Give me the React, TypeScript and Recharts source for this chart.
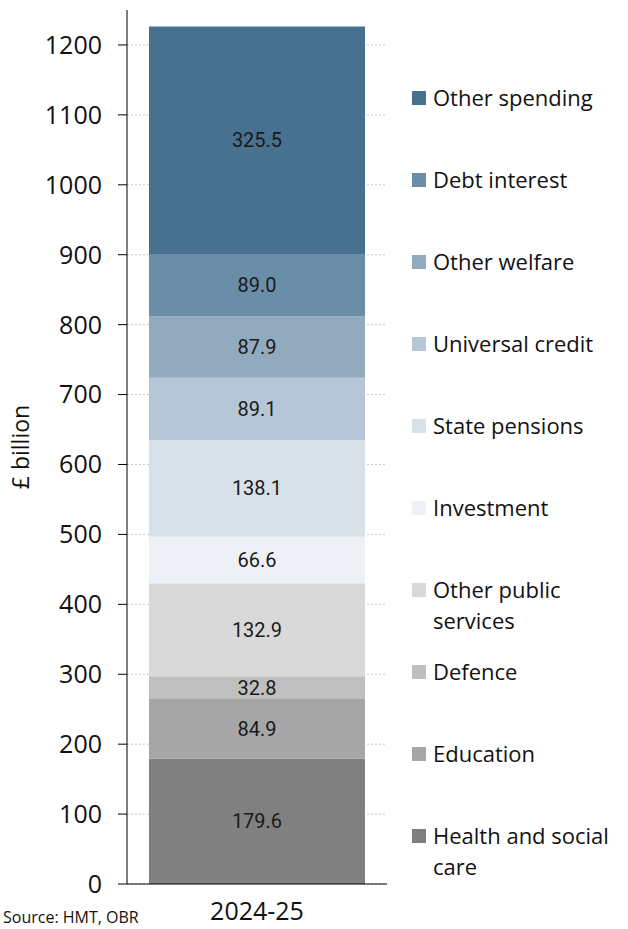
import React from 'react';
import {
  BarChart,
  Bar,
  XAxis,
  YAxis,
  CartesianGrid,
  LabelList,
} from 'recharts';

// Categories, bottom of the stack first
const SERIES_NAMES: string[] = [
  'Health and social care',
  'Education',
  'Defence',
  'Other public services',
  'Investment',
  'State pensions',
  'Universal credit',
  'Other welfare',
  'Debt interest',
  'Other spending',
];

// £ billion, 2024-25
const SERIES_VALUES: number[] = [179.6, 84.9, 32.8, 132.9, 66.6, 138.1, 89.1, 87.9, 89.0, 325.5];

const SERIES_COLORS: string[] = [
  '#808080',
  '#a6a6a6',
  '#bfbfbf',
  '#d9d9d9',
  '#edf1f5',
  '#d9e1e8',
  '#b5c7d6',
  '#92aabd',
  '#6a8da8',
  '#47718f',
];

const YEARS: string[] = ['2024-25'];
const Y_TICKS: number[] = [0, 100, 200, 300, 400, 500, 600, 700, 800, 900, 1000, 1100, 1200];

const FONT = '"Open Sans", "Noto Sans", sans-serif';

// one row per year, one key per series
const chartData = YEARS.map((year) => {
  const row: Record<string, number | string> = { year };
  SERIES_NAMES.forEach((name, i) => {
    row[name] = SERIES_VALUES[i];
  });
  return row;
});

// legend on the right, top entry first, evenly spaced
function SideLegend() {
  const items = [...SERIES_NAMES].reverse();
  return (
    <div
      style={{
        position: 'absolute',
        left: 412,
        top: 82,
        width: 216,
        fontFamily: FONT,
        fontSize: 22,
        color: '#111',
      }}
    >
      {items.map((name) => {
        const color = SERIES_COLORS[SERIES_NAMES.indexOf(name)];
        return (
          <div key={name} style={{ height: 82, position: 'relative' }}>
            <span
              style={{
                position: 'absolute',
                left: 0,
                top: 9,
                width: 14,
                height: 14,
                background: color,
              }}
            />
            <div style={{ marginLeft: 21, lineHeight: '31px', width: 195 }}>{name}</div>
          </div>
        );
      })}
    </div>
  );
}

export default function App() {
  return (
    <div style={{ position: 'absolute', left: 0, top: 0, width: 628, height: 929, background: '#fff', overflow: 'hidden' }}>
      <BarChart
        width={628}
        height={929}
        data={chartData}
        margin={{ top: 10, right: 241, left: 47, bottom: 15 }}
        barSize={216}
      >
        <CartesianGrid
          vertical={false}
          horizontalValues={Y_TICKS}
          stroke="#c8c8c8"
          strokeDasharray="2 2"
        />
        <XAxis
          dataKey="year"
          height={30}
          axisLine={{ stroke: '#000' }}
          tickLine={false}
          tick={{ fill: '#111', fontSize: 25, fontFamily: FONT }}
          tickMargin={12}
        />
        <YAxis
          domain={[0, 1250]}
          ticks={Y_TICKS}
          width={80}
          interval={0}
          axisLine={{ stroke: '#000' }}
          tickLine={{ stroke: '#000' }}
          tickSize={9}
          tick={{ fill: '#111', fontSize: 25, fontFamily: FONT }}
          tickMargin={16}
          label={{
            value: '£ billion',
            angle: -90,
            position: 'insideLeft',
            offset: -26,
            style: { fill: '#111', fontSize: 23, fontFamily: FONT, textAnchor: 'middle' },
          }}
        />
        {SERIES_NAMES.map((name, i) => (
          <Bar key={name} dataKey={name} stackId="a" fill={SERIES_COLORS[i]} isAnimationActive={false}>
            <LabelList
              dataKey={name}
              position="center"
              formatter={(v: number) => v.toFixed(1)}
              style={{ fill: '#1a1a1a', fontSize: 20, fontFamily: 'Roboto, sans-serif' }}
            />
          </Bar>
        ))}
      </BarChart>
      <SideLegend />
      <div
        style={{
          position: 'absolute',
          left: 3,
          top: 907,
          fontFamily: FONT,
          fontSize: 16,
          lineHeight: '20px',
          color: '#111',
          whiteSpace: 'nowrap',
        }}
      >
        Source: HMT, OBR
      </div>
    </div>
  );
}
